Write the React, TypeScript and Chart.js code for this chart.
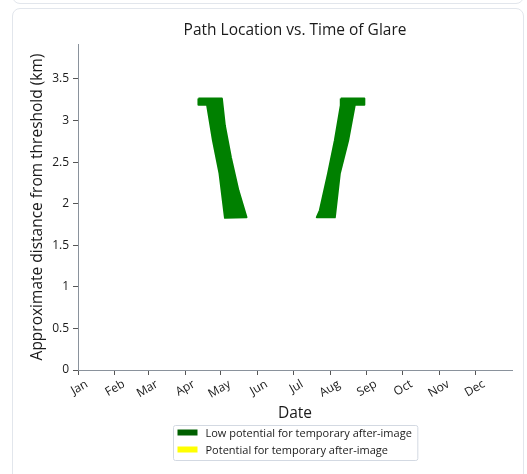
import React, { useEffect, useRef } from "react";
import { Chart, registerables } from "chart.js";

Chart.register(...registerables);

// ---- data ----
const chartTitle = "Path Location vs. Time of Glare";
const xAxisTitle = "Date";
const yAxisTitle = "Approximate distance from threshold (km)";

const monthLabels = ["Jan", "Feb", "Mar", "Apr", "May", "Jun", "Jul", "Aug", "Sep", "Oct", "Nov", "Dec"];
const monthStartDays = [0, 31, 59, 90, 120, 151, 181, 212, 243, 273, 304, 334];
const yTickValues = [0, 0.5, 1, 1.5, 2, 2.5, 3, 3.5];

// Outline of the spring glare region (day of year, km from threshold)
const springDays = [101.3, 121.0, 123.5, 128.6, 134.9, 141.7, 123.6, 119.0, 113.5, 108.5, 101.3, 101.3];
const springKm = [3.264, 3.264, 2.94, 2.556, 2.16, 1.836, 1.83, 2.364, 2.76, 3.19, 3.19, 3.264];
// Outline of the summer glare region
const summerDays = [221.0, 240.8, 240.8, 232.8, 227.2, 220.2, 216.0, 200.8, 203.4, 210.3, 216.0, 221.0, 221.0];
const summerKm = [3.264, 3.264, 3.19, 3.19, 2.76, 2.364, 1.836, 1.836, 1.92, 2.364, 2.76, 3.18, 3.264];

// Potential for temporary after-image: no occurrences
const potentialDays: number[] = [];
const potentialKm: number[] = [];

const seriesLabels = ["Low potential for temporary after-image", "Potential for temporary after-image"];
const seriesColors = ["#008000", "#ffff00"];
const legendSwatchColors = ["#006000", "#ffff00"];

const FONT = "'Open Sans', sans-serif";
const TEXT = "#1a1a1a";
const AXIS = "#8a929c";

const boxLegend = {
  id: "boxLegend",
  afterDraw(chart: any) {
    const ctx: CanvasRenderingContext2D = chart.ctx;
    const area = chart.chartArea;
    const cx = (area.left + area.right) / 2;
    ctx.save();
    // title, centred over the plot area
    ctx.font = `15.5px ${FONT}`;
    ctx.fillStyle = TEXT;
    ctx.textAlign = "center";
    ctx.textBaseline = "middle";
    ctx.fillText(chartTitle, cx, 31);

    // boxed legend below the x-axis title
    const items = chart.data.datasets.map((d: any, i: number) => ({ text: d.label, color: legendSwatchColors[i] }));
    ctx.font = `11px ${FONT}`;
    const textW = Math.max(...items.map((it: any) => ctx.measureText(it.text).width));
    const boxW = 32 + textW + 6;
    const boxH = 35;
    const left = Math.round(cx - boxW / 2) + 0.5;
    const top = Math.round(chart.scales.x.bottom) - 1 + 0.5;
    ctx.strokeStyle = "#d3d9e2";
    ctx.lineWidth = 1;
    ctx.beginPath();
    (ctx as any).roundRect(left, top, boxW, boxH, 2);
    ctx.stroke();
    items.forEach((it: any, i: number) => {
      const cy = top + 7 + i * 17;
      ctx.fillStyle = it.color;
      ctx.fillRect(left + 4, cy - 3, 20, 6);
      ctx.fillStyle = TEXT;
      ctx.textBaseline = "middle";
      ctx.textAlign = "left";
      ctx.fillText(it.text, left + 32, cy + 1);
    });
    ctx.restore();
  },
};

export default function App() {
  const ref = useRef<HTMLCanvasElement | null>(null);

  useEffect(() => {
    if (!ref.current) return;
    Chart.defaults.font.family = FONT;
    Chart.defaults.color = TEXT;

    const lowData: any[] = [];
    springDays.forEach((d, i) => lowData.push({ x: d, y: springKm[i] }));
    lowData.push({ x: 170, y: null });
    summerDays.forEach((d, i) => lowData.push({ x: d, y: summerKm[i] }));
    const potData = potentialDays.map((d, i) => ({ x: d, y: potentialKm[i] }));

    const chart = new Chart(ref.current, {
      type: "line",
      data: {
        datasets: [
          {
            label: seriesLabels[0],
            data: lowData,
            borderColor: seriesColors[0],
            backgroundColor: seriesColors[0],
            borderWidth: 2,
            borderJoinStyle: "round",
            pointRadius: 0,
            tension: 0,
            spanGaps: false,
            fill: "shape",
          } as any,
          {
            label: seriesLabels[1],
            data: potData,
            borderColor: seriesColors[1],
            backgroundColor: seriesColors[1],
            pointRadius: 0,
            fill: "shape",
          } as any,
        ],
      },
      options: {
        responsive: false,
        animation: false,
        layout: { padding: { left: 0, right: 15, top: 44, bottom: 48 } },
        plugins: {
          legend: { display: false },
          tooltip: { enabled: false },
          title: { display: false },
        },
        scales: {
          x: {
            type: "linear",
            min: 0,
            max: 365,
            afterBuildTicks: (s: any) => {
              s.ticks = monthStartDays.map((v) => ({ value: v }));
            },
            afterFit: (s: any) => {
              s.height = 56;
            },
            ticks: {
              autoSkip: false,
              minRotation: 30,
              maxRotation: 30,
              labelOffset: 9,
              padding: 2,
              color: TEXT,
              font: { size: 12 },
              callback: (v: any) => monthLabels[monthStartDays.indexOf(Number(v))],
            },
            grid: { drawOnChartArea: false, tickLength: 5, tickColor: "#555", color: AXIS },
            border: { color: AXIS, width: 1 },
            title: { display: true, text: xAxisTitle, color: TEXT, font: { size: 15.5 }, padding: { top: 0, bottom: 2.7 } },
          },
          y: {
            type: "linear",
            min: 0,
            max: 3.92,
            afterBuildTicks: (s: any) => {
              s.ticks = yTickValues.map((v) => ({ value: v }));
            },
            afterFit: (s: any) => {
              s.width = 78;
            },
            ticks: {
              padding: 4,
              color: TEXT,
              font: { size: 12 },
              callback: (v: any) => String(v),
            },
            grid: { drawOnChartArea: false, tickLength: 5, tickColor: "#555", color: AXIS },
            border: { color: AXIS, width: 1 },
            title: { display: true, text: yAxisTitle, color: TEXT, font: { size: 15.5 }, padding: { top: 28.2, bottom: 0 } },
          },
        },
      },
      plugins: [boxLegend],
    });
    return () => chart.destroy();
  }, []);

  return (
    <div style={{ position: "absolute", left: 0, top: 0, width: 527, height: 474, overflow: "hidden", background: "#fff" }}>
      <div style={{ position: "absolute", left: 12, top: -30, width: 510, height: 32, border: "1px solid #e2e6ec", borderRadius: 8 }} />
      <div style={{ position: "absolute", left: 12, top: 8, width: 510, height: 500, border: "1px solid #e2e6ec", borderRadius: 8 }} />
      <canvas ref={ref} width={527} height={474} style={{ position: "absolute", left: 0, top: 0, width: 527, height: 474 }} />
    </div>
  );
}
